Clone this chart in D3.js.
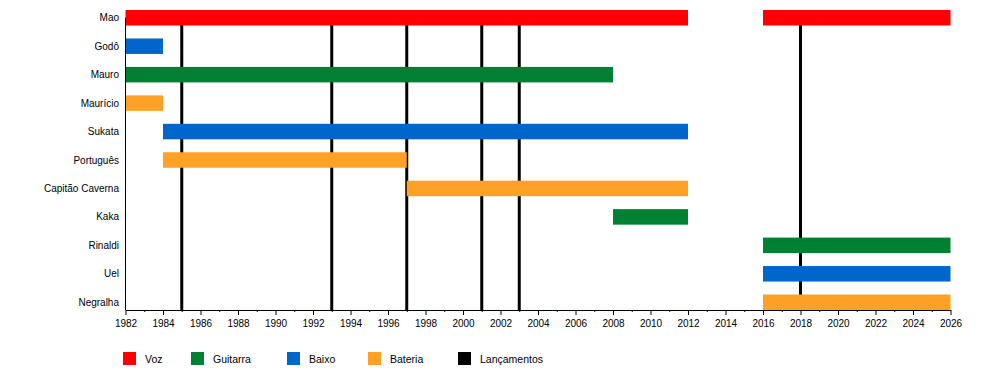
<!DOCTYPE html>
<html>
<head>
<meta charset="utf-8">
<script src="https://cdn.jsdelivr.net/npm/d3@7"></script>
<style>
  body { margin: 0; background: #fff; }
  text { font-family: "Liberation Sans", Arial, sans-serif; fill: #000; }
</style>
</head>
<body>
<div id="timeline"></div>
<script>
// data
var members = ["Mao", "Godô", "Mauro", "Maurício", "Sukata", "Português",
               "Capitão Caverna", "Kaka", "Rinaldi", "Uel", "Negralha"];
var roles = ["Voz", "Guitarra", "Baixo", "Bateria"];
var roleColors = ["#ff0000", "#008033", "#0066cc", "#ffa126"];
// member, role, from, to
var periods = [
    ["Mao", "Voz", 1982, 2012],
    ["Mao", "Voz", 2016, 2026],
    ["Godô", "Baixo", 1982, 1984],
    ["Mauro", "Guitarra", 1982, 2008],
    ["Maurício", "Bateria", 1982, 1984],
    ["Sukata", "Baixo", 1984, 2012],
    ["Português", "Bateria", 1984, 1997],
    ["Capitão Caverna", "Bateria", 1997, 2012],
    ["Kaka", "Guitarra", 2008, 2012],
    ["Rinaldi", "Guitarra", 2016, 2026],
    ["Uel", "Baixo", 2016, 2026],
    ["Negralha", "Bateria", 2016, 2026]
];
var releases = [1985, 1993, 1997, 2001, 2003, 2018];
var yearRange = [1982, 2026];
var legendLabels = ["Voz", "Guitarra", "Baixo", "Bateria", "Lançamentos"];

// layout
var view_width = 1000, view_height = 385;
var left = 125.5, right = 950.5, axisY = 310;
var barHeight = 15.5;
var legendX = [123, 191, 287, 368, 458];

var svg = d3.select("#timeline").append("svg")
    .attr("width", view_width)
    .attr("height", view_height);

var x = d3.scaleLinear()
    .domain(yearRange)
    .range([left, right]);
var y = d3.scalePoint()
    .domain(members)
    .range([17.75, 302.25]);
var color = d3.scaleOrdinal()
    .domain(roles)
    .range(roleColors);

// release lines (under the bars)
svg.selectAll(".release")
    .data(releases)
    .enter()
    .append("line")
    .attr("class", "release")
    .attr("x1", function(d) { return x(d); })
    .attr("x2", function(d) { return x(d); })
    .attr("y1", y(members[0]))
    .attr("y2", axisY)
    .attr("stroke", "#000")
    .attr("stroke-width", 3);

// bars
svg.selectAll(".bar")
    .data(periods)
    .enter()
    .append("rect")
    .attr("class", "bar")
    .attr("x", function(d) { return x(d[2]); })
    .attr("width", function(d) { return x(d[3]) - x(d[2]); })
    .attr("y", function(d) { return y(d[0]) - barHeight / 2; })
    .attr("height", barHeight)
    .attr("fill", function(d) { return color(d[1]); });

// left axis
svg.append("line")
    .attr("x1", left).attr("x2", left)
    .attr("y1", y(members[0])).attr("y2", axisY)
    .attr("stroke", "#000");

svg.selectAll(".name")
    .data(members)
    .enter()
    .append("text")
    .attr("class", "name")
    .attr("x", 119)
    .attr("y", function(d) { return y(d); })
    .attr("dy", "0.35em")
    .attr("text-anchor", "end")
    .style("font-size", "10px")
    .text(function(d) { return d; });

// bottom axis, major and minor ticks
var xAxis = svg.append("g")
    .attr("class", "axis axis--x")
    .attr("transform", "translate(0," + axisY + ")");
xAxis.call(d3.axisBottom(x)
        .tickValues(d3.range(yearRange[0], yearRange[1] + 1, 1).filter(function(d) { return d % 2 == 1; }))
        .tickSize(2)
        .tickFormat(""));
xAxis.call(function(g) { g.select(".domain").remove(); });
var xMajor = svg.append("g")
    .attr("class", "axis axis--x")
    .attr("transform", "translate(0," + axisY + ")");
xMajor.call(d3.axisBottom(x)
        .tickValues(d3.range(yearRange[0], yearRange[1] + 1, 2))
        .tickSize(5)
        .tickSizeOuter(0)
        .tickFormat(d3.format("d")));
xMajor.selectAll("text")
    .attr("y", 10)
    .style("font-size", "10px")
    .style("font-family", "'Liberation Sans', Arial, sans-serif");
svg.selectAll(".axis path, .axis line").attr("stroke", "#000");

// legend
var legend = svg.selectAll(".legend")
    .data(legendLabels)
    .enter()
    .append("g")
    .attr("class", "legend")
    .attr("transform", function(d, i) { return "translate(" + legendX[i] + ",352)"; });
legend.append("rect")
    .attr("width", 13)
    .attr("height", 13)
    .attr("fill", function(d, i) { return i < roles.length ? color(d) : "#000"; });
legend.append("text")
    .attr("x", 22)
    .attr("y", 7)
    .attr("dy", "0.35em")
    .style("font-size", "10.5px")
    .text(function(d) { return d; });
</script>
</body>
</html>
